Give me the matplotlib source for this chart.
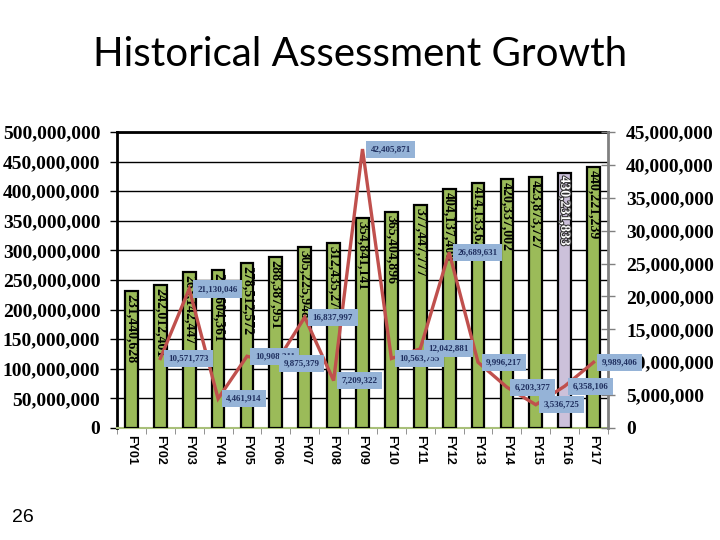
import matplotlib
matplotlib.use("Agg")
import matplotlib.pyplot as plt
import matplotlib.patheffects as pe
from matplotlib.ticker import FuncFormatter, MultipleLocator, FixedLocator

years = ["FY01", "FY02", "FY03", "FY04", "FY05", "FY06", "FY07", "FY08", "FY09",
         "FY10", "FY11", "FY12", "FY13", "FY14", "FY15", "FY16", "FY17"]
assessment = [231440628, 242012401, 263142447, 267604361, 278512572, 288387951,
              305225948, 312435270, 354841141, 365404896, 377447777, 404137408,
              414133625, 420337002, 423873727, 430231833, 440221239]
growth_years = years[1:]
growth = [10571773, 21130046, 4461914, 10908211, 9875379, 16837997, 7209322,
          42405871, 10563755, 12042881, 26689631, 9996217, 6203377, 3536725,
          6358106, 9989406]
highlight_year = "FY16"

fig = plt.figure(figsize=(7.2, 5.4), dpi=100)
fig.patch.set_facecolor("white")
ax = fig.add_axes([117/720, 1-428/540, (608-117)/720, (428-132)/540])

xs = list(range(len(years)))
colors = ["#CCC1DA" if y == highlight_year else "#9BBB59" for y in years]
ax.bar(xs, assessment, width=0.44, color=colors, edgecolor="black", linewidth=1.6, zorder=3)

for x, v, y in zip(xs, assessment, years):
    lab = f"{v:,}"
    if y == highlight_year:
        ax.annotate(lab, (x, v), xytext=(0, -3), textcoords="offset pixels",
                    rotation=-90, ha="center", va="top", fontsize=10,
                    fontweight="bold", family="Liberation Serif", color="white",
                    path_effects=[pe.withStroke(linewidth=1.5, foreground="#333333")],
                    zorder=4)
    else:
        ax.annotate(lab, (x, v), xytext=(0, -3), textcoords="offset pixels",
                    rotation=-90, ha="center", va="top", fontsize=10,
                    fontweight="bold", family="Liberation Serif", color="black",
                    zorder=4)

ax.set_xlim(-0.5, 16.5)
ax.set_ylim(0, 500_000_000)
ax.yaxis.set_major_locator(MultipleLocator(50_000_000))
ax.yaxis.set_major_formatter(FuncFormatter(lambda v, p: f"{int(v):,}"))
ax.grid(axis="y", color="black", linewidth=1.0, zorder=0)
ax.set_axisbelow(True)
for lab in ax.get_yticklabels():
    lab.set_family("Liberation Serif")
    lab.set_fontweight("bold")
    lab.set_fontsize(14)
ax.tick_params(axis="y", direction="out", length=5, width=1, colors="black", pad=7)

ax.set_xticks(xs)
ax.set_xticklabels(years, rotation=-90, fontsize=9, fontweight="bold", family="Liberation Sans")
ax.tick_params(axis="x", length=0, pad=5)
ax.xaxis.set_minor_locator(FixedLocator([i + 0.5 for i in range(-1, len(years))]))
ax.tick_params(axis="x", which="minor", length=4, color="#808080", direction="out")

ax.spines["left"].set_linewidth(2)
ax.spines["left"].set_color("black")
ax.spines["top"].set_linewidth(2)
ax.spines["top"].set_color("black")
ax.spines["bottom"].set_color("#A9C07A")
ax.spines["bottom"].set_linewidth(1.5)
ax.spines["right"].set_visible(False)

ax2 = ax.twinx()
gx = [years.index(y) for y in growth_years]
ax2.plot(gx, growth, color="#C0504D", linewidth=2.4, zorder=5, solid_joinstyle="miter")
ax2.set_ylim(0, 45_000_000)
ax2.yaxis.set_major_locator(MultipleLocator(5_000_000))
ax2.yaxis.set_major_formatter(FuncFormatter(lambda v, p: f"{int(v):,}"))
for lab in ax2.get_yticklabels():
    lab.set_family("Liberation Serif")
    lab.set_fontweight("bold")
    lab.set_fontsize(14)
ax2.tick_params(axis="y", direction="inout", length=10, width=1, color="#808080", pad=8)
for s in ["left", "top", "bottom"]:
    ax2.spines[s].set_visible(False)
ax2.spines["right"].set_color("#808080")
ax2.spines["right"].set_linewidth(2)

for x, v in zip(gx, growth):
    ax2.annotate(f"{v:,}", (x, v), xytext=(8, 0), textcoords="offset pixels",
                 ha="left", va="center", fontsize=6.5, fontweight="bold",
                 family="Liberation Serif", color="#1F2F5F", zorder=6,
                 bbox=dict(boxstyle="square,pad=0.5", facecolor="#95B3D7", edgecolor="none"),
                 annotation_clip=False)

fig.text(0.5, 1-55/540, "Historical Assessment Growth", ha="center", va="center",
         fontsize=29, family="Lato", color="black")
fig.text(12/720, 1-517/540, "26", ha="left", va="center", fontsize=14,
         family="Liberation Sans", color="black")

fig.savefig("out.png", dpi=100)
